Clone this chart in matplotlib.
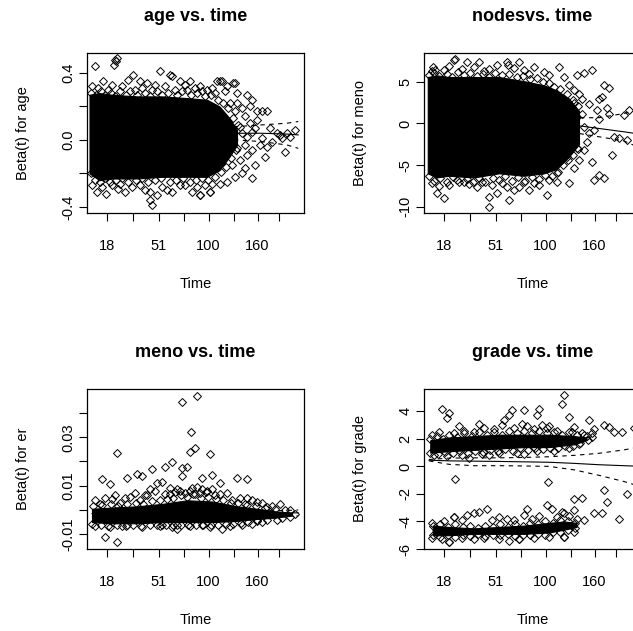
import matplotlib.pyplot as plt

plt.rcParams['font.family'] = ['Liberation Sans', 'DejaVu Sans']

# x axis: transformed time, tick positions and labels (shared by all panels)
tick_pos = [0.8, 1.84, 2.88, 3.86, 4.86, 5.88, 6.82, 7.68]
tick_lab = ['18', '', '51', '', '100', '', '160', '']
fit_x = [0.2, 1, 2, 3, 4, 5, 6, 7, 8, 8.45]

# ---- panel 1: age ----
band1_x = [0.1, 0.5, 1.0, 2.0, 3.0, 4.0, 4.8, 5.3, 5.7, 6.0]
band1_hi = [0.27, 0.28, 0.27, 0.26, 0.26, 0.25, 0.24, 0.20, 0.13, 0.06]
band1_lo = [-0.20, -0.24, -0.23, -0.23, -0.22, -0.22, -0.22, -0.18, -0.10, -0.03]
pts1_x = [0.32, 1.12, 1.2, 1.08, 1.16, 1.84, 2.92, 3.3, 3.4, 1.64, 2.4, 4.1, 4.5, 5.2, 5.3, 5.4,
          5.84, 0.64, 1.0, 2.1, 3.7, 4.8, 3.9, 2.7, 5.0, 5.6, 0.2, 0.45, 1.4, 2.2, 3.1, 4.3, 4.6,
          5.5, 0.85, 1.9, 2.6, 3.5, 4.0, 5.1,
          5.9, 6.0, 6.4, 6.6, 6.8, 7.0, 7.2, 6.8, 6.3, 5.9, 6.2, 6.4, 7.0, 7.4, 7.2, 7.6, 7.7, 8.3,
          8.1, 7.9, 7.1, 6.4, 6.7, 6.3, 6.2, 6.6, 5.9, 5.6, 5.3, 4.9, 4.5,
          6.0, 6.2, 6.5, 6.1, 6.6, 6.0, 6.3, 6.6, 6.1, 5.8, 6.9, 6.5, 5.7, 5.8, 6.7, 7.3, 7.8, 8.0,
          0.4, 0.76, 1.24, 1.5, 2.5, 2.5, 2.6, 2.8, 3.4, 4.2, 4.5, 4.9, 3.7, 0.2, 0.6, 1.0, 1.8,
          2.1, 3.0, 3.9, 4.4, 5.0, 2.3, 3.2, 1.3, 4.7]
pts1_y = [0.44, 0.48, 0.49, 0.45, 0.47, 0.39, 0.41, 0.39, 0.38, 0.36, 0.34, 0.35, 0.32, 0.35, 0.35, 0.35,
          0.34, 0.35, 0.33, 0.35, 0.35, 0.30, 0.33, 0.33, 0.31, 0.32, 0.32, 0.31, 0.32, 0.31, 0.32, 0.31, 0.29,
          0.29, 0.30, 0.30, 0.30, 0.30, 0.30, 0.28,
          0.34, 0.28, 0.27, 0.24, 0.17, 0.17, 0.17, 0.12, 0.14, 0.17, 0.04, 0.02, 0.01, -0.01, -0.04, 0.04, 0.03, 0.06,
          0.02, -0.07, -0.10, -0.09, -0.15, -0.17, -0.20, -0.23, -0.22, -0.25, -0.26, -0.31, -0.33,
          0.22, 0.19, 0.10, 0.08, 0.05, -0.05, -0.03, -0.06, -0.12, -0.15, -0.03, 0.20, 0.22, 0.05, 0.07, 0.07, 0.01, 0.04,
          -0.31, -0.32, -0.29, -0.31, -0.31, -0.36, -0.39, -0.33, -0.31, -0.31, -0.33, -0.31, -0.27, -0.27, -0.28, -0.27, -0.28,
          -0.27, -0.28, -0.27, -0.28, -0.26, -0.30, -0.30, -0.26, -0.27]
edge1_x = [0.15, 0.35, 0.55, 0.7, 0.95, 1.1, 1.3, 1.55, 1.7, 2.0, 2.3, 2.5, 2.8, 3.0, 3.25, 3.6, 3.8,
           4.15, 4.4, 4.7, 4.95, 5.25, 5.45, 5.65, 5.85, 6.05,
           0.15, 0.3, 0.5, 0.7, 0.9, 1.15, 1.4, 1.65, 1.95, 2.2, 2.45, 2.7, 2.95, 3.3, 3.55, 3.85, 4.1,
           4.35, 4.6, 4.85, 5.1, 5.35, 5.55, 5.75, 5.95]
edge1_y = [0.28, 0.27, 0.29, 0.27, 0.28, 0.26, 0.29, 0.27, 0.29, 0.27, 0.28, 0.26, 0.29, 0.27, 0.28, 0.27, 0.29,
           0.27, 0.28, 0.26, 0.27, 0.24, 0.22, 0.19, 0.13, 0.09,
           -0.20, -0.24, -0.25, -0.23, -0.25, -0.24, -0.23, -0.25, -0.24, -0.23, -0.25, -0.24, -0.23, -0.25, -0.24,
           -0.23, -0.25, -0.24, -0.23, -0.24, -0.22, -0.19, -0.16, -0.11, -0.06]
fit1 = [0.0, 0.0, 0.01, 0.01, 0.02, 0.03, 0.04, 0.04, 0.035, 0.03]
fit1_hi = [0.04, 0.03, 0.035, 0.035, 0.045, 0.06, 0.08, 0.09, 0.10, 0.11]
fit1_lo = [-0.04, -0.03, -0.015, -0.015, -0.005, 0.0, 0.0, -0.01, -0.03, -0.05]

# ---- panel 2: nodes ----
band2_x = [0.15, 0.5, 1, 2, 3, 4, 4.8, 5.3, 5.8, 6.2]
band2_hi = [5.6, 5.8, 5.6, 5.6, 5.6, 5.1, 4.6, 4.0, 3.0, 1.5]
band2_lo = [-6.0, -6.5, -6.3, -6.5, -6.0, -6.3, -6.0, -5.5, -4.0, -2.5]
pts2_x = [0.37, 0.45, 1.2, 1.25, 1.7, 2.2, 3.3, 3.35, 3.8, 4.4, 5.4, 6.1, 6.4, 6.7, 7.2, 7.4, 7.1, 7.3,
          8.2, 8.0, 7.4, 7.0,
          0.8, 1.5, 2.0, 2.6, 2.9, 3.6, 4.0, 4.8, 5.0, 5.6, 0.3, 1.0, 2.4, 4.2, 5.8, 6.0, 6.3,
          8.1, 7.6, 7.8, 7.5, 7.0, 7.2, 6.8, 6.4, 6.2, 6.0, 5.8, 5.3, 5.3, 4.9, 5.8, 6.6, 6.4, 6.1,
          6.6, 7.0, 6.2, 6.5, 6.8, 6.9, 6.3, 5.9, 6.1, 5.7, 6.7, 6.0,
          0.5, 0.8, 1.0, 2.6, 2.6, 2.9, 3.4, 3.6, 3.8, 4.2, 4.6, 2.1, 1.6, 1.3, 0.3, 0.6, 1.8, 2.3,
          3.1, 3.3, 4.0, 4.4, 5.0, 2.7]
pts2_y = [6.8, 6.5, 7.6, 7.8, 7.4, 7.4, 7.4, 7.0, 7.4, 6.8, 6.8, 5.8, 6.1, 6.4, 4.6, 4.3, 3.2, 1.9,
          1.6, 1.0, 1.2, 0.6,
          6.5, 6.6, 6.8, 6.6, 7.0, 6.7, 6.4, 6.2, 5.8, 5.6, 6.3, 6.9, 6.3, 6.0, 4.6, 4.0, 3.0,
          -2.0, -1.6, -1.7, -3.8, -6.2, -6.6, -6.8, -3.2, -4.4, -5.4, -7.2, -7.0, -6.0, -8.6, -2.0, -1.2, -0.4, 0.8,
          2.4, 3.0, 3.6, -2.2, -0.8, 1.6, 1.2, -1.0, -3.0, -4.0, -4.6, 2.5,
          -8.4, -9.0, -7.4, -10.0, -8.9, -8.4, -9.2, -8.0, -7.6, -8.0, -7.4, -7.6, -7.0, -6.8, -7.2, -7.5, -7.3, -7.0,
          -7.2, -7.6, -7.0, -7.2, -6.8, -7.4]
edge2_x = [0.2, 0.4, 0.6, 0.9, 1.1, 1.35, 1.6, 1.85, 2.1, 2.35, 2.6, 2.85, 3.1, 3.4, 3.7, 3.95, 4.25,
           4.5, 4.75, 5.0, 5.2, 5.45, 5.7, 5.95, 6.15,
           0.2, 0.4, 0.65, 0.9, 1.15, 1.4, 1.7, 1.95, 2.2, 2.45, 2.75, 3.0, 3.25, 3.5, 3.75, 4.05, 4.3,
           4.6, 4.85, 5.1, 5.35, 5.55, 5.75, 5.95, 6.15]
edge2_y = [5.8, 6.1, 5.7, 6.0, 5.6, 6.2, 5.8, 6.1, 5.7, 6.0, 5.6, 6.1, 5.8, 6.0, 5.6, 5.7, 5.3,
           5.5, 5.0, 4.9, 4.4, 4.2, 3.6, 2.8, 2.1,
           -6.3, -6.9, -6.6, -7.0, -6.5, -7.1, -6.7, -7.0, -6.6, -7.1, -6.6, -6.8, -6.3, -6.9, -6.5, -6.9, -6.5,
           -6.7, -6.2, -6.3, -5.8, -5.0, -4.4, -3.8, -3.1]
fit2 = [0.3, 0.3, 0.25, 0.25, 0.2, 0.15, -0.2, -0.6, -1.0, -1.2]
fit2_hi = [1.1, 0.9, 0.8, 0.8, 0.8, 0.8, 0.7, 0.7, 1.2, 1.6]
fit2_lo = [-0.5, -0.3, -0.3, -0.3, -0.4, -0.5, -1.1, -1.6, -2.1, -2.7]

# ---- panel 3: meno ----
band3_x = [0.2, 1, 2, 3, 4, 5, 6, 6.8, 7.5, 8.2]
band3_hi = [0.0005, 0.001, 0.0015, 0.0025, 0.004, 0.0035, 0.0015, 0.0005, -0.0005, -0.0012]
band3_lo = [-0.005, -0.0055, -0.0055, -0.005, -0.005, -0.005, -0.0045, -0.0037, -0.0032, -0.0023]
pts3_x = [3.8, 4.4, 4.16, 4.1, 4.3, 4.9, 1.2, 3.4, 2.6, 3.1, 3.8, 4.0, 3.8, 5.0, 2.0, 2.2, 1.6, 0.6,
          0.9, 6.0, 6.4, 5.3, 2.8, 3.0, 4.6,
          0.72, 1.2, 3.6, 5.4, 1.6, 3.0, 3.6, 4.6,
          7.7, 8.1, 8.3, 7.2, 6.8, 6.8, 6.4,
          0.3, 0.7, 1.1, 1.5, 1.9, 2.3, 2.7, 3.3, 3.7, 4.2, 4.5, 5.1, 5.6, 6.1, 6.6, 7.0, 0.5, 1.3,
          2.1, 2.5, 3.5, 4.8, 5.8, 6.3, 7.4,
          0.3, 0.9, 1.4, 2.2, 2.9, 3.4, 4.1, 4.9, 5.7, 6.2, 6.6, 7.0, 7.6]
pts3_y = [0.0445, 0.047, 0.032, 0.024, 0.0256, 0.023, 0.0235, 0.0198, 0.017, 0.0177, 0.0173, 0.0177, 0.014,
          0.0144, 0.0148, 0.014, 0.013, 0.0128, 0.0107, 0.013, 0.0128, 0.011, 0.011, 0.0115, 0.013,
          -0.011, -0.0132, -0.0078, -0.0078, -0.0062, -0.0062, -0.0062, -0.0062,
          0.0025, 0.0, -0.0017, 0.0012, 0.0033, -0.004, 0.005,
          0.004, 0.005, 0.006, 0.005, 0.007, 0.006, 0.008, 0.009, 0.008, 0.009, 0.007, 0.006, 0.007, 0.005,
          0.004, 0.003, 0.0025, 0.003, 0.004, 0.0085, 0.0075, 0.008, 0.004, 0.0025, 0.0015,
          -0.0065, -0.007, -0.0068, -0.007, -0.0068, -0.007, -0.0068, -0.007, -0.0065, -0.006, -0.0058,
          -0.005, -0.0042]
edge3_x = [0.25, 0.6, 0.95, 1.25, 1.6, 1.95, 2.25, 2.6, 2.9, 3.2, 3.45, 3.75, 4.0, 4.3, 4.55, 4.85, 5.15,
           5.45, 5.75, 6.05, 6.4, 6.75, 7.1, 7.5, 7.9,
           3.3, 3.6, 3.9, 4.1, 4.4, 4.6, 4.75, 3.1, 2.4, 1.7, 1.0, 5.3, 5.0, 4.25,
           0.2, 0.55, 0.85, 1.2, 1.55, 1.85, 2.15, 2.5, 2.8, 3.15, 3.45, 3.75, 4.05, 4.35, 4.65, 4.95, 5.25,
           5.55, 5.85, 6.15, 6.45, 6.8, 7.2, 7.8, 8.1]
edge3_y = [0.0015, 0.002, 0.0025, 0.0015, 0.0025, 0.003, 0.0025, 0.0035, 0.004, 0.0045, 0.005, 0.006, 0.0055,
           0.0065, 0.005, 0.0055, 0.0045, 0.004, 0.003, 0.003, 0.002, 0.0015, 0.001, 0.0005, 0.0,
           0.0065, 0.0085, 0.007, 0.008, 0.0095, 0.0085, 0.0075, 0.0065, 0.006, 0.0055, 0.0045, 0.0065, 0.0085, 0.0065,
           -0.0058, -0.0062, -0.0065, -0.0063, -0.0065, -0.0062, -0.0065, -0.0063, -0.0064, -0.006, -0.0063,
           -0.0061, -0.0063, -0.006, -0.0062, -0.006, -0.0061, -0.0058, -0.0056, -0.0052, -0.005, -0.0045,
           -0.004, -0.0035, -0.003]
fit3 = [-0.0015, -0.0015, -0.0014, -0.0013, -0.0012, -0.0012, -0.0012, -0.0012, -0.0012, -0.0012]
fit3_hi = [-0.0005, -0.0008, -0.0008, -0.0007, -0.0006, -0.0006, -0.0005, -0.0004, -0.0002, 0.0]
fit3_lo = [-0.0025, -0.0022, -0.002, -0.0019, -0.0018, -0.0018, -0.0019, -0.002, -0.0022, -0.0025]

# ---- panel 4: grade ----
band4a_x = [0.25, 1, 2, 3, 4, 5, 6, 6.5]
band4a_hi = [1.9, 2.1, 2.2, 2.3, 2.3, 2.3, 2.2, 2.1]
band4a_lo = [1.0, 1.1, 1.2, 1.3, 1.4, 1.4, 1.6, 1.9]
band4b_x = [0.35, 1, 2, 3, 4, 5, 5.6, 6.1]
band4b_hi = [-4.3, -4.4, -4.5, -4.4, -4.3, -4.1, -4.0, -4.1]
band4b_lo = [-5.0, -5.0, -4.9, -4.9, -4.9, -4.8, -4.6, -4.4]
pts4_x = [0.7, 1.0, 0.9, 1.24, 4.96, 5.6, 5.5, 3.5, 4.0, 4.6, 4.5, 3.4, 5.8, 6.6, 7.2, 7.4, 7.6, 7.9,
          8.4, 6.8, 6.0,
          7.2, 7.3, 8.1, 7.8, 6.0, 6.3, 7.1, 6.8, 4.9, 5.1, 4.1, 4.0, 5.6, 2.5, 2.2, 2.0, 1.7, 1.2,
          1.0, 3.8, 5.6,
          0.3, 0.6, 1.2, 1.6, 2.0, 2.4, 2.8, 3.1, 3.6, 4.1, 4.4, 4.9, 5.3, 5.9, 6.3, 1.4, 2.2, 3.2,
          3.9, 4.7, 5.0, 6.5, 6.7,
          0.4, 0.9, 1.5, 2.3, 3.0, 3.7, 4.5, 5.2, 5.8, 6.2, 1.8, 2.6, 4.0,
          0.3, 0.8, 1.2, 1.5, 2.7, 3.0, 3.3, 3.6, 4.3, 4.6, 5.3, 5.8, 6.1, 6.4, 6.0, 5.5,
          0.3, 0.7, 1.0, 1.5, 2.0, 2.4, 3.0, 3.8, 4.4, 5.0, 5.6, 6.0, 3.4]
pts4_y = [4.2, 3.9, 3.5, -0.95, -1.1, 5.2, 4.5, 4.1, 4.1, 4.2, 3.7, 3.7, 3.6, 3.4, 3.0, 2.85, 2.5, 2.5,
          2.8, 2.7, 2.85,
          -1.75, -2.6, -2.0, -3.8, -2.4, -2.3, -3.4, -3.4, -2.8, -3.1, -3.1, -3.5, -3.4, -3.1, -3.3, -3.4, -3.5,
          -3.7, -5.5, -5.3, -5.1,
          2.3, 2.5, 2.4, 2.6, 2.5, 2.8, 2.7, 3.0, 2.8, 2.9, 2.7, 2.8, 2.6, 2.5, 2.4, 2.9, 3.1, 3.4,
          3.1, 3.0, 2.9, 2.2, 2.4,
          0.8, 0.75, 0.85, 0.9, 0.95, 1.0, 1.1, 1.1, 1.3, 1.6, 0.6, 0.8, 0.9,
          -4.1, -4.0, -3.7, -3.9, -3.9, -3.7, -3.8, -3.9, -3.8, -3.6, -3.7, -3.6, -3.8, -3.9, -3.2, -3.3,
          -5.2, -5.3, -5.5, -5.2, -5.3, -5.2, -5.3, -5.3, -5.2, -5.1, -5.1, -4.8, -5.4]
edge4_x = [0.25, 0.5, 0.75, 1.0, 1.3, 1.6, 1.9, 2.2, 2.5, 2.8, 3.1, 3.4, 3.7, 4.0, 4.3, 4.6, 4.9, 5.2,
           5.5, 5.8, 6.1, 6.4, 6.7,
           0.25, 0.55, 0.85, 1.15, 1.45, 1.75, 2.05, 2.35, 2.65, 2.95, 3.25, 3.55, 3.85, 4.15, 4.45, 4.75,
           5.05, 5.35, 5.65, 5.95, 6.25, 6.55,
           0.35, 0.65, 0.95, 1.25, 1.55, 1.85, 2.15, 2.45, 2.75, 3.05, 3.35, 3.65, 3.95, 4.25, 4.55, 4.85,
           5.15, 5.45, 5.75, 6.05,
           0.35, 0.65, 0.95, 1.25, 1.55, 1.85, 2.15, 2.45, 2.75, 3.05, 3.35, 3.65, 3.95, 4.25, 4.55, 4.85,
           5.15, 5.45, 5.75, 6.05]
edge4_y = [2.0, 2.2, 2.0, 2.3, 2.1, 2.4, 2.2, 2.5, 2.3, 2.5, 2.3, 2.6, 2.4, 2.6, 2.4, 2.6, 2.4, 2.5,
           2.3, 2.5, 2.3, 2.3, 2.1,
           1.0, 0.9, 1.05, 0.95, 1.1, 1.0, 1.15, 1.05, 1.2, 1.1, 1.25, 1.15, 1.3, 1.2, 1.3, 1.25,
           1.35, 1.3, 1.45, 1.5, 1.7, 1.9,
           -4.3, -4.2, -4.4, -4.2, -4.4, -4.3, -4.5, -4.3, -4.4, -4.2, -4.4, -4.2, -4.3, -4.1, -4.2, -4.0,
           -4.1, -3.9, -4.0, -4.1,
           -5.0, -5.1, -4.95, -5.1, -4.95, -5.05, -4.9, -5.05, -4.95, -5.0, -4.9, -5.05, -4.95, -5.0, -4.9,
           -4.95, -4.8, -4.75, -4.6, -4.5]
fit4 = [0.45, 0.4, 0.38, 0.36, 0.33, 0.3, 0.22, 0.12, 0.05, 0.02]
fit4_hi = [0.5, 0.6, 0.62, 0.62, 0.65, 0.7, 0.8, 0.95, 1.2, 1.35]
fit4_lo = [0.4, 0.15, 0.05, 0.05, 0.03, 0.0, -0.25, -0.65, -1.1, -1.35]

fig = plt.figure(figsize=(6.33, 6.31), dpi=100, facecolor='white')
W, H = 633.0, 631.0


def panel(left_px, top_px, title, ylabel, bands, px, py, fit, hi, lo, yticks, ylabs, ylim):
    ax = fig.add_axes([left_px / W, (H - top_px - 160) / H, 217 / W, 160 / H])
    for bx, bhi, blo in bands:
        ax.fill_between(bx, blo, bhi, color='black', lw=0.8, zorder=1)
    ax.plot(px, py, ls='none', marker='D', ms=3.6, mfc='none', mec='black', mew=0.7, zorder=2)
    ax.plot(fit_x, fit, color='black', lw=0.8, zorder=3)
    ax.plot(fit_x, hi, color='black', lw=0.8, ls=(0, (4, 4)), zorder=3)
    ax.plot(fit_x, lo, color='black', lw=0.8, ls=(0, (4, 4)), zorder=3)
    ax.set_xlim(0, 8.68)
    ax.set_ylim(*ylim)
    ax.set_xticks(tick_pos)
    ax.set_xticklabels(tick_lab)
    ax.set_yticks(yticks)
    ax.set_yticklabels(ylabs, rotation=90, va='center')
    ax.tick_params(axis='both', direction='out', length=5.8, width=0.8, labelsize=10.5, colors='black')
    ax.tick_params(axis='x', pad=13)
    ax.tick_params(axis='y', pad=2.7)
    for s in ax.spines.values():
        s.set_linewidth(0.9)
    ax.annotate(title, xy=(0.5, 1), xycoords='axes fraction', xytext=(0, 26),
                textcoords='offset points', ha='center', va='center',
                fontsize=13, fontweight='bold')
    ax.annotate('Time', xy=(0.5, 0), xycoords='axes fraction', xytext=(0, -51),
                textcoords='offset points', ha='center', va='center', fontsize=10.5)
    ax.annotate(ylabel, xy=(0, 0.5), xycoords='axes fraction', xytext=(-46, 0),
                textcoords='offset points', ha='center', va='center', rotation=90, fontsize=10.5)
    return ax


panel(87, 53, 'age vs. time', 'Beta(t) for age', [(band1_x, band1_hi, band1_lo)],
      pts1_x + edge1_x, pts1_y + edge1_y, fit1, fit1_hi, fit1_lo,
      [-0.4, -0.2, 0.0, 0.2, 0.4], ['-0.4', '', '0.0', '', '0.4'], (-0.436, 0.519))
panel(424, 53, 'nodesvs. time', 'Beta(t) for meno', [(band2_x, band2_hi, band2_lo)],
      pts2_x + edge2_x, pts2_y + edge2_y, fit2, fit2_hi, fit2_lo,
      [-10, -5, 0, 5], ['-10', '-5', '0', '5'], (-10.78, 8.49))
panel(87, 389, 'meno vs. time', 'Beta(t) for er', [(band3_x, band3_hi, band3_lo)],
      pts3_x + edge3_x, pts3_y + edge3_y, fit3, fit3_hi, fit3_lo,
      [-0.01, 0.0, 0.01, 0.02, 0.03, 0.04], ['-0.01', '', '0.01', '', '0.03', ''], (-0.0161, 0.0499))
panel(424, 389, 'grade vs. time', 'Beta(t) for grade',
      [(band4a_x, band4a_hi, band4a_lo), (band4b_x, band4b_hi, band4b_lo)],
      pts4_x + edge4_x, pts4_y + edge4_y, fit4, fit4_hi, fit4_lo,
      [-6, -4, -2, 0, 2, 4], ['-6', '-4', '-2', '0', '2', '4'], (-5.99, 5.62))

fig.savefig('out.png', dpi=100, facecolor='white')
